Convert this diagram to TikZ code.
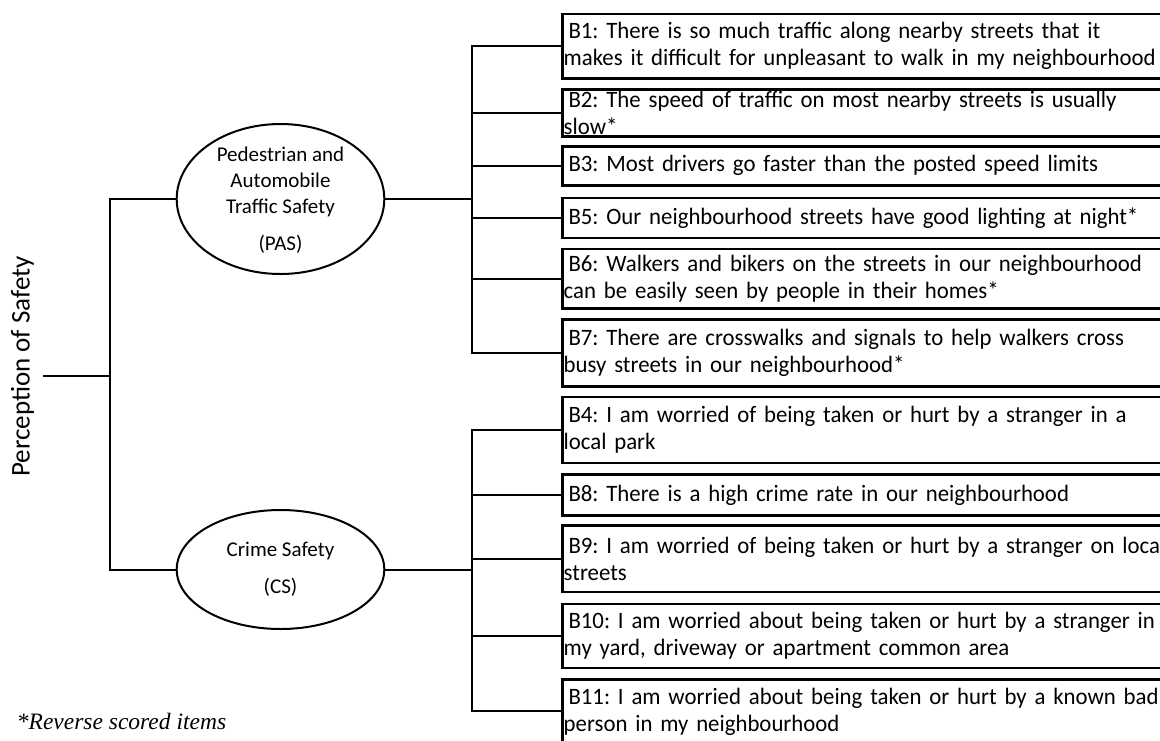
\documentclass[tikz,border=0pt]{standalone}
\usepackage{fontspec}
\setmainfont{Carlito}
\newfontfamily\itemfam[FakeStretch=0.97]{Carlito}
\newfontfamily\footfont{Liberation Serif}
\usetikzlibrary{shapes.geometric,calc}
\frenchspacing
\newcommand\itemfont{\itemfam\frenchspacing\fontsize{23.5}{27}\selectfont}
\newcommand\factfont{\fontsize{21}{26}\selectfont}
\newcommand\lead{\hspace*{4.8pt}}
\tikzset{
  itembox/.style={draw, line width=2.6pt, rectangle, anchor=north west, minimum width=640pt, inner sep=0pt},
  itemtext/.style={anchor=west, text width=630pt, align=left, inner xsep=2.5pt, inner ysep=0pt, font=\itemfont},
  conn/.style={line width=2pt},
  factor/.style={draw, ellipse, line width=2pt, inner sep=0pt, minimum width=207.6pt},
  facttext/.style={align=center, font=\factfont, inner sep=0pt},
}
\begin{document}
\begin{tikzpicture}[x=1pt,y=-1pt]
\useasboundingbox (0,0) rectangle (1160,740);
\fill[white] (0,0) rectangle (1160,740);
\clip (0,0) rectangle (1160,740);

% item boxes
\node[itembox, minimum height=64.6pt] (b1) at (561,12.7) {};
\node[itembox, minimum height=46.7pt] (b2) at (561,88.3) {};
\node[itembox, minimum height=39pt]   (b3) at (561,145) {};
\node[itembox, minimum height=40pt]   (b5) at (561,196.7) {};
\node[itembox, minimum height=59.6pt] (b6) at (561,247.7) {};
\node[itembox, minimum height=66.7pt] (b7) at (561,318.3) {};
\node[itembox, minimum height=66pt]   (b4) at (561,395.7) {};
\node[itembox, minimum height=40.7pt] (b8) at (561,473.3) {};
\node[itembox, minimum height=66.7pt] (b9) at (561,524) {};
\node[itembox, minimum height=64pt]   (b10) at (561,602.7) {};
\node[itembox, minimum height=63.7pt] (b11) at (561,678.3) {};

\node[itemtext] (t1) at (b1.west) {\lead B1: There is so much traffic along nearby streets that it\\makes it difficult for unpleasant to walk in my neighbourhood};
\node[itemtext] (t2) at (b2.west) {\lead B2: The speed of traffic on most nearby streets is usually\\slow*};
\node[itemtext] (t3) at (b3.west) {\lead B3: Most drivers go faster than the posted speed limits};
\node[itemtext] (t5) at (b5.west) {\lead B5: Our neighbourhood streets have good lighting at night*};
\node[itemtext] (t6) at (b6.west) {\lead B6: Walkers and bikers on the streets in our neighbourhood\\can be easily seen by people in their homes*};
\node[itemtext] (t7) at (b7.west) {\lead B7: There are crosswalks and signals to help walkers cross\\busy streets in our neighbourhood*};
\node[itemtext] (t4) at (b4.west) {\lead B4: I am worried of being taken or hurt by a stranger in a\\local park};
\node[itemtext] (t8) at (b8.west) {\lead B8: There is a high crime rate in our neighbourhood};
\node[itemtext] (t9) at (b9.west) {\lead B9: I am worried of being taken or hurt by a stranger on local\\streets};
\node[itemtext] (t10) at (b10.west) {\lead B10: I am worried about being taken or hurt by a stranger in\\my yard, driveway or apartment common area};
\node[itemtext] (t11) at (b11.west) {\lead B11: I am worried about being taken or hurt by a known bad\\person in my neighbourhood};

% factors
\node[factor, minimum height=150pt] (pas) at (280.5,199) {};
\node[facttext] (pastext) at (280.5,200) {Pedestrian and\\Automobile\\Traffic Safety\\[11pt](PAS)};
\node[factor, minimum height=119pt] (cs) at (280.5,569.5) {};
\node[facttext] (cstext) at (280.5,569.5) {Crime Safety\\[10.7pt](CS)};

% root
\node[rotate=90, font=\fontsize{27}{32}\selectfont, inner sep=0pt] (root) at (22.5,366.5) {Perception of Safety};
\coordinate (rootend) at (43.3,376);
\coordinate (j0) at (110,376);
\coordinate (pj) at (472.3,199);
\coordinate (cj) at (472.3,569.5);

% connectors
\draw[conn] (rootend) -- (j0);
\draw[conn] (pas.west) -| (j0) |- (cs.west);
\draw[conn] (pas.east) -- (pj);
\draw[conn] (cs.east) -- (cj);
\draw[conn] (b1.west) -| (pj) |- (b7.west);
\foreach \b in {b2,b3,b5,b6} \draw[conn] (\b.west) -- (\b.west -| pj);
\draw[conn] (b4.west) -| (cj) |- (b11.west);
\foreach \b in {b8,b9,b10} \draw[conn] (\b.west) -- (\b.west -| cj);

% footnote
\node[anchor=base west, inner sep=0pt, font=\footfont\itshape\fontsize{23.5}{28}\selectfont] (note) at (16.7,729) {*Reverse scored items};
\end{tikzpicture}
\end{document}
